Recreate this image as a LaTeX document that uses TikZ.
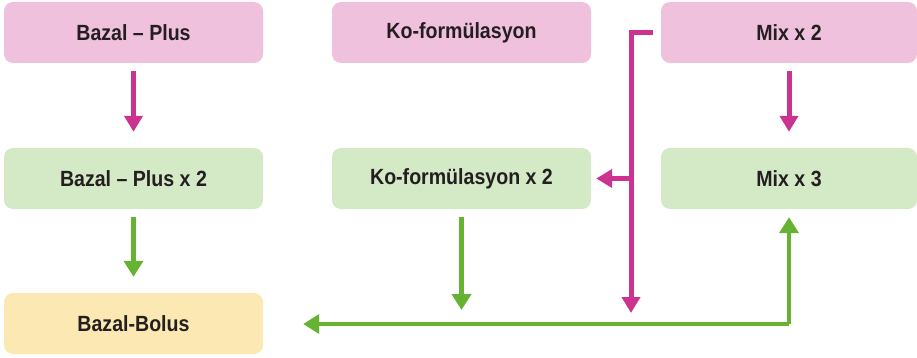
\documentclass[tikz,border=0pt]{standalone}
\usepackage{fontspec}
\setmainfont{Liberation Sans}[FakeStretch=0.89]
\usepackage{tikz}
\usetikzlibrary{arrows.meta, positioning}

\definecolor{boxpink}{HTML}{EFC1DD}
\definecolor{boxgreen}{HTML}{D4E9C5}
\definecolor{boxyellow}{HTML}{FCE8B2}
\definecolor{arrpink}{HTML}{CC3390}
\definecolor{arrgreen}{HTML}{66B232}
\definecolor{txt}{HTML}{231F20}

\tikzset{
  plan/.style={rounded corners=9pt, minimum width=259pt, minimum height=61pt,
    inner sep=0pt, text=txt, font=\fontsize{22}{25}\selectfont\bfseries},
  pinkplan/.style={plan, fill=boxpink},
  greenplan/.style={plan, fill=boxgreen},
  yellowplan/.style={plan, fill=boxyellow},
  pinkarr/.style={draw=arrpink, line width=5pt, -{Triangle[width=18pt,length=16pt]}},
  greenarr/.style={draw=arrgreen, line width=4.5pt, -{Triangle[width=19pt,length=16pt]}}
}

\begin{document}
\begin{tikzpicture}[x=1pt, y=-1pt]
\useasboundingbox (0,0) rectangle (917,358);

\node[pinkplan] (bp) at (133.5,32.5) {Bazal -- Plus};
\node[pinkplan] (ko) at (461.5,32.5) {Ko-formülasyon};
\node[pinkplan, minimum width=256pt] (mx) at (789,32.5) {Mix x 2};

\node[greenplan] (bpx) at (133.5,178.5) {Bazal -- Plus x 2};
\node[greenplan] (kox) at (461.5,178.5) {Ko-formülasyon x 2};
\node[greenplan, minimum width=256pt] (mxx) at (789,178.5) {Mix x 3};

\node[yellowplan] (bb) at (133.5,323.5) {Bazal-Bolus};

% pink arrows
\draw[pinkarr] ([yshift=-8pt]bp.south) -- ([yshift=16pt]bpx.north);
\draw[pinkarr] ([yshift=-8pt]mx.south) -- ([yshift=16pt]mxx.north);
\coordinate (mxstart) at ([xshift=-8pt]mx.west);
\coordinate (split) at (631,178.5);
\draw[draw=arrpink, line width=5pt] (mxstart) -| (split);
\draw[pinkarr] (split) -- ([xshift=5pt]kox.east);
\draw[pinkarr] (split) -- (631,313);

% green arrows
\draw[greenarr] ([yshift=-8pt]bpx.south) -- ([yshift=16pt]bb.north);
\draw[greenarr] ([yshift=-8pt]kox.south) -- (kox.south |- 0,310);
\draw[greenarr] (mxx.south |- 0,324) -- ([yshift=-8pt]mxx.south);
\draw[greenarr] (mxx.south |- 0,324) -- ([xshift=40pt]bb.east |- 0,324);
\end{tikzpicture}
\end{document}
